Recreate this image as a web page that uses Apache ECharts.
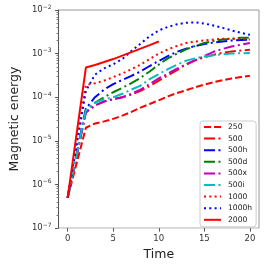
<!DOCTYPE html>
<html><head><meta charset="utf-8">
<script src="https://cdn.jsdelivr.net/npm/echarts@6/dist/echarts.min.js"></script>
<style>html,body{margin:0;padding:0;background:#fff}#c{width:266px;height:266px}</style>
</head><body><div id="c"></div>
<script>
const times = [0,2,3,4,5,6,7,8,9,10,11,12,13,14,15,16,17,18,19,20];
const s250  = [5e-7,2.0e-5,2.5e-5,2.8e-5,3.2e-5,3.8e-5,4.6e-5,5.8e-5,7.0e-5,8.5e-5,1.05e-4,1.25e-4,1.45e-4,1.7e-4,1.95e-4,2.2e-4,2.45e-4,2.7e-4,2.9e-4,3.1e-4];
const s500  = [5e-7,4.5e-5,6.5e-5,8e-5,9e-5,1.0e-4,1.15e-4,1.4e-4,1.8e-4,2.4e-4,3.2e-4,4.2e-4,5.6e-4,7.0e-4,8.2e-4,9.4e-4,1.05e-3,1.12e-3,1.18e-3,1.22e-3];
const s500h = [5e-7,5.5e-5,1.0e-4,1.5e-4,2.0e-4,2.5e-4,3.1e-4,3.9e-4,5.2e-4,6.8e-4,8.8e-4,1.1e-3,1.3e-3,1.5e-3,1.65e-3,1.8e-3,1.9e-3,2.0e-3,2.05e-3,2.1e-3];
const s500d = [5e-7,5e-5,7.5e-5,1.0e-4,1.3e-4,1.65e-4,2.1e-4,2.8e-4,3.9e-4,5.6e-4,7.8e-4,1.0e-3,1.25e-3,1.5e-3,1.75e-3,1.95e-3,2.1e-3,2.2e-3,2.3e-3,2.3e-3];
const s500x = [5e-7,4.5e-5,6.5e-5,8e-5,9e-5,1.0e-4,1.2e-4,1.5e-4,2.0e-4,2.7e-4,3.5e-4,4.5e-4,5.7e-4,7.1e-4,8.8e-4,1.1e-3,1.28e-3,1.45e-3,1.6e-3,1.75e-3];
const s500i = [5e-7,5e-5,7.5e-5,9e-5,1.0e-4,1.2e-4,1.5e-4,1.85e-4,2.6e-4,3.4e-4,4.4e-4,5.6e-4,6.9e-4,7.8e-4,8.6e-4,9.2e-4,9.6e-4,1.0e-3,1.02e-3,1.03e-3];
const s1000 = [5e-7,1.9e-4,2.1e-4,2.4e-4,2.9e-4,3.5e-4,4.4e-4,5.6e-4,7.5e-4,1.0e-3,1.25e-3,1.5e-3,1.75e-3,1.9e-3,2.0e-3,2.1e-3,2.2e-3,2.2e-3,2.2e-3,2.1e-3];
const s1000h= [5e-7,1.4e-4,3.3e-4,4.6e-4,5.7e-4,7.5e-4,1.15e-3,1.7e-3,2.5e-3,3.4e-3,4.1e-3,4.7e-3,5.1e-3,5.2e-3,4.9e-3,4.4e-3,3.9e-3,3.4e-3,3.0e-3,2.7e-3];
const s2000 = [5e-7,4.8e-4,5.5e-4,6.4e-4,7.5e-4,9.0e-4,1.08e-3,1.3e-3,1.57e-3,1.9e-3,null,null,null,null,null,null,null,null,null,null];
const names = ['250','500','500h','500d','500x','500i','1000','1000h','2000'];
const xTicks = [0,5,10,15,20];
const yMajor = [1e-7,1e-6,1e-5,1e-4,1e-3,1e-2];

const values = [s250,s500,s500h,s500d,s500x,s500i,s1000,s1000h,s2000];
const colors = ['#ff0000','#ff0000','#0000ff','#008000','#bf00bf','#00bfbf','#ff0000','#0000ff','#ff0000'];
const DASH=[7,3], DASHDOT=[11,3.5,2,3.5], DOT=[2,3.3];
const types = [DASH,DASHDOT,DASHDOT,DASHDOT,DASHDOT,DASHDOT,DOT,DOT,'solid'];

const yMinor=[];
for(let k=-7;k<-2;k++){for(let m=2;m<=9;m++){yMinor.push(m*Math.pow(10,k));}}

const font='DejaVu Sans';
const series = names.map((n,i)=>({
  name:n, type:'line', symbol:'circle', symbolSize:0, showSymbol:false, animation:false,
  data: times.map((t,j)=>values[i][j]==null?null:[t,values[i][j]]).filter(d=>d),
  lineStyle:{color:colors[i],width:2,type:types[i],cap:'butt'},
  itemStyle:{color:colors[i]},
  z: 2+i
}));

const chart = echarts.init(document.getElementById('c'),null,{renderer:'canvas'});
chart.setOption({
  animation:false,
  textStyle:{fontFamily:font},
  grid:{left:48,right:7,top:10,bottom:35,show:true,borderColor:'#999',borderWidth:1,containLabel:false},
  xAxis:{type:'value',min:-1,max:21,
    name:'Time',nameLocation:'middle',nameGap:14,
    nameTextStyle:{fontSize:12.5,color:'#222',fontFamily:font},
    axisLine:{show:true,onZero:false,lineStyle:{color:'#ddd',width:1}},
    axisTick:{show:true,length:3.5,lineStyle:{color:'#555'},customValues:xTicks},
    axisLabel:{fontSize:8.5,color:'#333',margin:6,fontFamily:font,customValues:xTicks},
    splitLine:{show:false}},
  yAxis:[{type:'log',logBase:10,min:1e-7,max:1e-2,
    name:'Magnetic energy',nameLocation:'middle',nameGap:33,
    nameTextStyle:{fontSize:12.5,color:'#222',fontFamily:font},
    axisLine:{show:true,onZero:false,lineStyle:{color:'#555',width:1}},
    axisTick:{show:true,length:3.5,lineStyle:{color:'#555'},customValues:yMajor},
    axisLabel:{margin:7,color:'#333',customValues:yMajor,
      formatter:v=>'{b|10}{s|\u2212'+(-Math.round(Math.log10(v)))+'}',
      rich:{b:{fontSize:8.5,fontFamily:font,color:'#333'},s:{fontSize:6,fontFamily:font,color:'#333',padding:[0,0,6,0]}}},
    splitLine:{show:false}},
   {type:'log',logBase:10,min:1e-7,max:1e-2,position:'left',
    axisLine:{show:false,onZero:false},axisLabel:{show:false},splitLine:{show:false},
    axisTick:{show:true,length:2,lineStyle:{color:'#777'},customValues:yMinor}}],
  legend:{show:true,orient:'vertical',left:200,top:121,
    itemWidth:17,itemHeight:8,itemGap:3.6,
    padding:[2,4,3,3],
    itemStyle:{opacity:0},
    backgroundColor:'rgba(255,255,255,0.85)',borderColor:'#ccc',borderWidth:1,borderRadius:3,
    textStyle:{fontSize:7.6,color:'#222',fontFamily:font,padding:[0,0,0,2]},
    data:names},
  series
});
</script></body></html>
